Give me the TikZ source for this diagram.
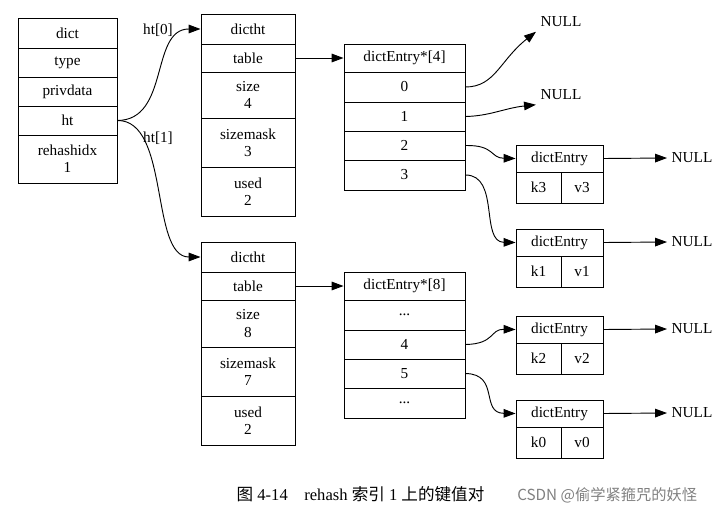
\documentclass[tikz,border=0pt]{standalone}
\usepackage{fontspec}
\setmainfont{Liberation Serif}
\newfontfamily\cjk{Noto Sans CJK SC}
\usetikzlibrary{arrows.meta}

\tikzset{cell/.style={draw, line width=0.7pt, rectangle, inner sep=0pt, align=center, font=\fontsize{11.5}{13}\selectfont},
         link/.style={-{Triangle[length=9pt,width=6.5pt]}, line width=0.7pt},
         lbl/.style={font=\fontsize{11.5}{13}\selectfont}}

% cell: name, x1, y1, x2, y2, text
\newcommand{\cellbox}[6]{\node[cell, minimum width={(#4-#2)*0.0265cm}, minimum height={(#5-#3)*0.0265cm}] (#1) at ({(#2+#4)/2},{(#3+#5)/2}) {#6};}

\begin{document}
\begin{tikzpicture}[x=0.0265cm, y=-0.0265cm]
    \useasboundingbox (0,0) rectangle (721,514);

    % dict
    \cellbox{d0}{18}{18}{117}{48}{dict}
    \cellbox{d1}{18}{48}{117}{77}{type}
    \cellbox{d2}{18}{77}{117}{106}{privdata}
    \cellbox{ht}{18}{106}{117}{135}{ht}
    \cellbox{d4}{18}{135}{117}{183}{rehashidx\\1}

    % dictht 0
    \cellbox{ta}{201}{14}{295}{44}{dictht}
    \cellbox{tatab}{201}{44}{295}{72}{table}
    \cellbox{ta2}{201}{72}{295}{118}{size\\4}
    \cellbox{ta3}{201}{118}{295}{167}{sizemask\\3}
    \cellbox{ta4}{201}{167}{295}{216}{used\\2}

    % dictht 1
    \cellbox{tb}{201}{242}{295}{272}{dictht}
    \cellbox{tbtab}{201}{272}{295}{300}{table}
    \cellbox{tb2}{201}{300}{295}{347}{size\\8}
    \cellbox{tb3}{201}{347}{295}{396}{sizemask\\7}
    \cellbox{tb4}{201}{396}{295}{445}{used\\2}

    % buckets
    \cellbox{aa}{344}{44}{465}{72}{dictEntry*[4]}
    \cellbox{a0}{344}{72}{465}{102}{0}
    \cellbox{a1}{344}{102}{465}{131}{1}
    \cellbox{a2}{344}{131}{465}{160}{2}
    \cellbox{a3}{344}{160}{465}{190}{3}

    \cellbox{bb}{344}{272}{465}{300}{dictEntry*[8]}
    \cellbox{b0}{344}{300}{465}{330}{...}
    \cellbox{b1}{344}{330}{465}{359}{4}
    \cellbox{b2}{344}{359}{465}{388}{5}
    \cellbox{b3}{344}{388}{465}{418}{...}

    % entries
    \cellbox{e3}{516}{145}{603}{172}{dictEntry}
    \cellbox{k3}{516}{172}{561}{203}{k3}
    \cellbox{v3}{561}{172}{603}{203}{v3}
    \cellbox{e1}{516}{229}{603}{256}{dictEntry}
    \cellbox{k1}{516}{256}{561}{287}{k1}
    \cellbox{v1}{561}{256}{603}{287}{v1}
    \cellbox{e2}{516}{316}{603}{343}{dictEntry}
    \cellbox{k2}{516}{343}{561}{374}{k2}
    \cellbox{v2}{561}{343}{603}{374}{v2}
    \cellbox{e0}{516}{400}{603}{427}{dictEntry}
    \cellbox{k0}{516}{427}{561}{458}{k0}
    \cellbox{v0}{561}{427}{603}{458}{v0}

    % NULLs
    \node[lbl] (n0) at (561,22) {NULL};
    \node[lbl] (n1) at (561,95) {NULL};
    \node[lbl] (n3) at (692,158) {NULL};
    \node[lbl] (n1r) at (692,242) {NULL};
    \node[lbl] (n2) at (692,329) {NULL};
    \node[lbl] (n0r) at (692,413) {NULL};

    \node[lbl] (l0) at (158,30) {ht[0]};
    \node[lbl] (l1) at (158,138) {ht[1]};

    \draw[link] (ht.east) .. controls (170,120) and (150,29) .. (ta.west);
    \draw[link] (ht.east) .. controls (170,120) and (150,257) .. (tb.west);
    \draw[link] (tatab.east) -- (aa.west);
    \draw[link] (tbtab.east) -- (bb.west);
    \draw[link] (a0.east) .. controls (495,87) and (500,60) .. (n0.south west);
    \draw[link] (a1.east) .. controls (490,116) and (505,108) .. (n1.south west);
    \draw[link] (a2.east) .. controls (495,145) and (490,158) .. (e3.west);
    \draw[link] (a3.east) .. controls (500,175) and (480,242) .. (e1.west);
    \draw[link] (b1.east) .. controls (495,344) and (490,329) .. (e2.west);
    \draw[link] (b2.east) .. controls (500,374) and (480,413) .. (e0.west);
    \draw[link] (e3.east) -- (n3.west);
    \draw[link] (e1.east) -- (n1r.west);
    \draw[link] (e2.east) -- (n2.west);
    \draw[link] (e0.east) -- (n0r.west);

    \node[font=\fontsize{12.5}{14}\selectfont, anchor=west] (cap) at (232,494) {{\cjk 图} 4-14\quad rehash {\cjk 索引} 1 {\cjk 上的键值对}};
    \node[font=\fontsize{11.5}{13}\cjk, text=gray, anchor=west, inner sep=0pt] (wm) at (517,495) {CSDN @偷学紧箍咒的妖怪};
\end{tikzpicture}
\end{document}
